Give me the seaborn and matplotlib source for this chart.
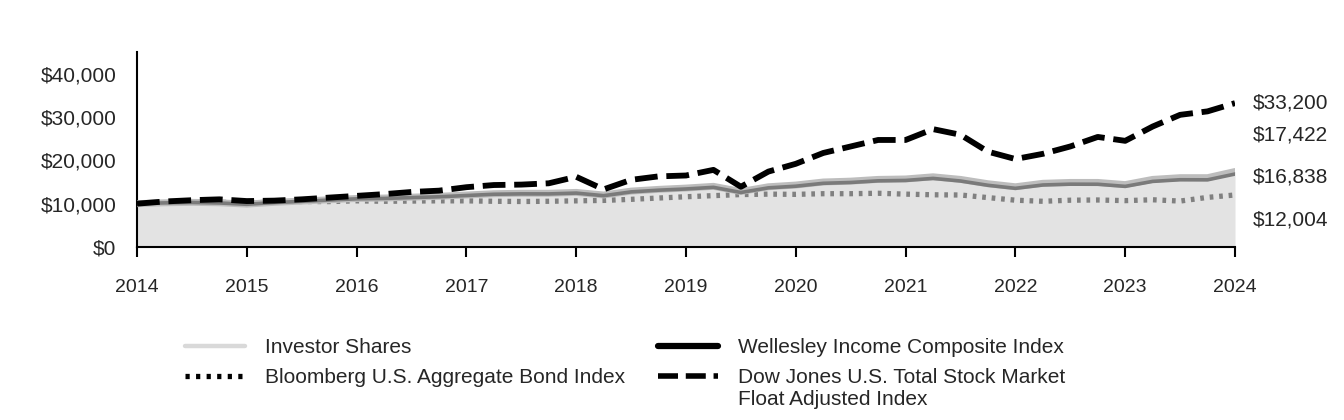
import numpy as np
import pandas as pd
import matplotlib
matplotlib.use("Agg")
import matplotlib.pyplot as plt
from matplotlib.lines import Line2D
import seaborn as sns

# ---- data (quarterly, growth of $10,000) ----
periods = [2014 + 0.25 * i for i in range(41)]

investor_shares = [10000, 10200, 10300, 10200, 9900, 10300, 10600, 10900, 11200, 11300,
                   11500, 11700, 12000, 12300, 12400, 12400, 12600, 12000, 12900, 13300,
                   13600, 14000, 12800, 13900, 14300, 15000, 15200, 15600, 15700, 16200,
                   15600, 14600, 13900, 14700, 14900, 14900, 14400, 15600, 16000, 16000,
                   17422]
wellesley_index = [10000, 10180, 10270, 10160, 9860, 10250, 10540, 10830, 11120, 11210,
                   11400, 11590, 11880, 12170, 12260, 12250, 12440, 11840, 12720, 13110,
                   13390, 13770, 12580, 13650, 14030, 14700, 14890, 15270, 15360, 15830,
                   15230, 14240, 13540, 14310, 14500, 14480, 13990, 15140, 15520, 15500,
                   16838]
bond_index = [10000, 10150, 10300, 10320, 10250, 10300, 10500, 10480, 10650, 10550,
              10600, 10650, 10650, 10550, 10500, 10550, 10650, 10750, 11000, 11300,
              11600, 11850, 12100, 12200, 12150, 12300, 12300, 12400, 12200, 12050,
              12000, 11400, 10800, 10550, 10800, 10850, 10700, 10900, 10600, 11450,
              12004]
dow_index = [10000, 10500, 10800, 11000, 10600, 10700, 11000, 11400, 11800, 12200,
             12700, 13000, 13800, 14300, 14400, 14700, 16200, 13300, 15500, 16300,
             16500, 17800, 13900, 17400, 19200, 21700, 23200, 24700, 24700, 27200,
             25900, 22000, 20300, 21500, 23200, 25400, 24500, 27800, 30500, 31300,
             33200]

series_names = ["Investor Shares", "Wellesley Income Composite Index",
                "Bloomberg U.S. Aggregate Bond Index",
                "Dow Jones U.S. Total Stock Market", "Float Adjusted Index"]
end_labels = ["$33,200", "$17,422", "$16,838", "$12,004"]
year_ticks = list(range(2014, 2025))
y_ticks = [0, 10000, 20000, 30000, 40000]

df = pd.DataFrame({"period": periods,
                   "investor": investor_shares,
                   "wellesley": wellesley_index,
                   "bond": bond_index,
                   "dow": dow_index})

sns.set_theme(style="white")
plt.rcParams["font.family"] = ["Liberation Sans", "DejaVu Sans"]

fig = plt.figure(figsize=(13.44, 4.2), dpi=100)
ax = fig.add_axes([137 / 1344, 1 - 247 / 420, (1235 - 137) / 1344, (247 - 52) / 420])

# area under investor shares
ax.fill_between(df["period"], 0, df["investor"], color="#e3e3e3", zorder=1, linewidth=0)

sns.lineplot(data=df, x="period", y="bond", ax=ax, color="#808080", linewidth=3.8,
             zorder=2, legend=False)
ax.lines[-1].set_dashes((0.7, 1.1))
ax.lines[-1].set_dash_capstyle("butt")
sns.lineplot(data=df, x="period", y="investor", ax=ax, color="#bdbdbd", linewidth=5,
             zorder=3, legend=False)
sns.lineplot(data=df, x="period", y="wellesley", ax=ax, color="#7a7a7a", linewidth=2.6,
             zorder=4, legend=False)
sns.lineplot(data=df, x="period", y="dow", ax=ax, color="black", linewidth=4.2,
             zorder=5, legend=False)
ax.lines[-1].set_dashes((3.9, 1.5))

ax.set_xlim(2014, 2024)
ax.set_ylim(0, 45000)
ax.set_xticks(year_ticks)
ax.set_xticklabels([str(y) for y in year_ticks], fontsize=14)
ax.set_yticks(y_ticks)
ax.set_yticklabels([f"${v:,.0f}" for v in y_ticks], fontsize=15)
ax.set_xlabel("")
ax.set_ylabel("")
for s in ["top", "right"]:
    ax.spines[s].set_visible(False)
for s in ["left", "bottom"]:
    ax.spines[s].set_color("black")
    ax.spines[s].set_linewidth(1.5)
ax.tick_params(axis="x", direction="out", length=7, width=1.5, color="black",
               pad=16, bottom=True)
ax.tick_params(axis="y", length=0, pad=15)
ax.grid(False)

# right side end labels
label_y = [103, 135, 177, 220]
for txt, py in zip(end_labels, label_y):
    fig.text(1253 / 1344, 1 - py / 420, txt, fontsize=15, va="center", ha="left")

h_investor = Line2D([], [], color="#d9d9d9", linewidth=3.2)
h_bond = Line2D([], [], color="black", linewidth=3.8, linestyle=(0, (0.8, 1.2)))
h_well = Line2D([], [], color="black", linewidth=4.5)
h_dow = Line2D([], [], color="black", linewidth=4.0, linestyle=(0, (3.6, 1.4)))

common = dict(loc="upper left", frameon=False, fontsize=15, handlelength=2.9,
              handletextpad=0.95, labelspacing=0.55, borderaxespad=0, borderpad=0)
leg1 = fig.legend([h_investor, h_bond], [series_names[0], series_names[2]],
                  bbox_to_anchor=(185 / 1344, 1 - 338 / 420), **common)
leg2 = fig.legend([h_well, h_dow], [series_names[1], series_names[3]],
                  bbox_to_anchor=(658 / 1344, 1 - 338 / 420), **common)

# second line of the Dow Jones legend label, aligned with the legend text
fig.canvas.draw()
tb = leg2.get_texts()[1].get_window_extent()
x0 = tb.x0 / fig.bbox.width
y0 = (tb.y0 - 22) / fig.bbox.height
fig.text(x0, y0, series_names[4], fontsize=15, va="bottom", ha="left")

fig.savefig("out.png", dpi=100)
